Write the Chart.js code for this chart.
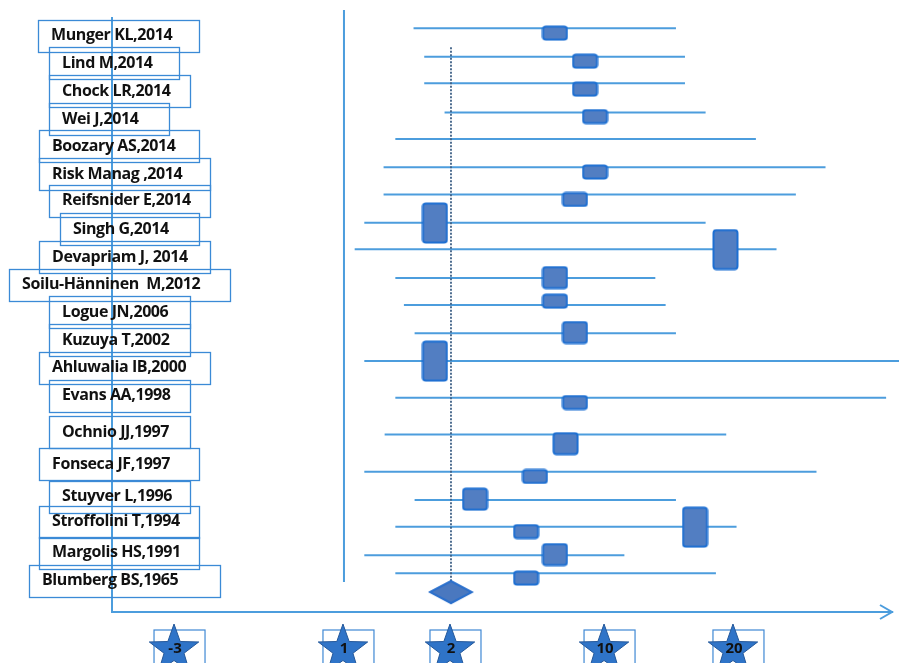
<!DOCTYPE html>
<html>
<head>
<meta charset="utf-8">
<script src="https://cdn.jsdelivr.net/npm/chart.js@4.4.1/dist/chart.umd.min.js"></script>
<style>
  html, body { margin: 0; padding: 0; background: #fff; }
  #wrap { width: 899px; height: 663px; }
</style>
</head>
<body>
<div id="wrap"><canvas id="myChart"></canvas></div>
<script>
// studies, top to bottom
var studies = ['Munger KL,2014', 'Lind M,2014', 'Chock LR,2014', 'Wei J,2014', 'Boozary AS,2014',
  'Risk Manag ,2014', 'Reifsnider E,2014', 'Singh G,2014', 'Devapriam J, 2014', 'Soilu-Hänninen  M,2012',
  'Logue JN,2006', 'Kuzuya T,2002', 'Ahluwalia IB,2000', 'Evans AA,1998', 'Ochnio JJ,1997',
  'Fonseca JF,1997', 'Stuyver L,1996', 'Stroffolini T,1994', 'Margolis HS,1991', 'Blumberg BS,1965'];

// confidence interval of each study (one line each) and the row it sits on
var ciLow  = [1.65, 1.75, 1.75, 1.94, 1.48, 1.37, 1.37, 1.19, 1.10, 1.48, 1.56, 1.66, 1.19, 1.48, 1.38, 1.19, 1.66, 1.48, 1.19, 1.48];
var ciHigh = [15.5, 16.2, 16.2, 17.8, 21.7, 27.1, 24.8, 17.8, 23.3, 13.9, 14.7, 15.5, 32.8, 31.8, 19.4, 26.4, 15.5, 20.2, 11.5, 18.6];
var ciRow  = [1.0, 2.01, 2.96, 4.0, 4.95, 5.96, 6.93, 7.94, 8.89, 9.91, 10.88, 11.89, 12.88, 14.19, 15.5, 16.83, 17.84, 18.8, 19.81, 20.46];

// point estimates (the boxes), their row and weight class 1..3
var boxEst    = [7.40, 8.96, 8.96, 9.48, 9.48, 8.44, 1.85, 19.34, 7.40, 7.40, 8.44, 1.85, 8.44, 7.95, 6.36, 3.25, 5.90, 16.98, 7.40, 5.90];
var boxRow    = [1.17, 2.17, 3.17, 4.15, 6.13, 7.11, 7.95, 8.90, 9.90, 10.74, 11.86, 12.88, 14.36, 15.83, 17.0, 17.81, 18.97, 18.81, 19.79, 20.63];
var boxWeight = [1, 1, 1, 1, 1, 1, 3, 3, 2, 1, 2, 3, 1, 2, 1, 2, 1, 3, 2, 1];

// pooled estimate
var pooled = 2;
var pooledRow = 21.13;
var nullValue = 1;

// x axis tick labels
var xTicks = [-3, 1, 2, 10, 20];

// ---- layout (not data) ----
var xTickFrac = [0.0808, 0.2974, 0.4346, 0.6321, 0.7974]; // where each tick sits along the axis
var nullSpan = [0.34, 20.77];
var pooledSpan = [1.67, 20.74];
var labelRow = [1.27, 2.25, 3.24, 4.24, 5.20, 6.20, 7.15, 8.18, 9.17, 10.15, 11.13, 12.13, 13.11, 14.11, 15.43, 16.56, 17.72, 18.61, 19.72, 20.72];
var labelBoxL = [38, 49, 49, 49, 39, 39, 49, 60, 39, 9, 49, 49, 39, 49, 49, 39, 49, 39, 39, 29];
var labelBoxR = [199, 179, 190, 169, 199, 210, 210, 199, 210, 230, 190, 190, 210, 190, 190, 199, 190, 199, 199, 220];
var boxHeights = { 1: 13, 2: 21, 3: 39 };
var lineBlue = '#4c9ddd';
var labelFont = 'bold 16px "Open Sans"';

function toFrac(v) {
  var n = xTicks.length, i = 0;
  if (v >= xTicks[n - 1]) i = n - 2;
  else while (i < n - 2 && v > xTicks[i + 1]) i++;
  var t = (v - xTicks[i]) / (xTicks[i + 1] - xTicks[i]);
  return xTickFrac[i] + t * (xTickFrac[i + 1] - xTickFrac[i]);
}
function fromFrac(f) {
  var n = xTickFrac.length, i = 0;
  if (f >= xTickFrac[n - 1]) i = n - 2;
  else while (i < n - 2 && f > xTickFrac[i + 1]) i++;
  var t = (f - xTickFrac[i]) / (xTickFrac[i + 1] - xTickFrac[i]);
  return xTicks[i] + t * (xTicks[i + 1] - xTicks[i]);
}

// linear scale whose ticks are unevenly spaced, like the original drawing
class ForestScale extends Chart.LinearScale {
  buildTicks() {
    return xTicks.map(function (v) { return { value: v }; });
  }
  getPixelForValue(v) {
    if (v === null || isNaN(v)) return NaN;
    return this.getPixelForDecimal(toFrac(v));
  }
  getValueForPixel(p) {
    return fromFrac(this.getDecimalForPixel(p));
  }
}
ForestScale.id = 'forest';
ForestScale.defaults = {};
Chart.register(ForestScale);

var imgCache = {};
function boxImage(w) {
  if (imgCache[w]) return imgCache[w];
  var h = boxHeights[w];
  var c = document.createElement('canvas');
  c.width = 27; c.height = h + 3;
  var g = c.getContext('2d');
  g.fillStyle = '#527ec2';
  g.strokeStyle = '#1d6fd2';
  g.lineWidth = 2;
  g.beginPath();
  g.roundRect(1.5, 1.5, 24, h, 3);
  g.fill(); g.stroke();
  imgCache[w] = c;
  return c;
}
function diamondImage() {
  var c = document.createElement('canvas');
  c.width = 46; c.height = 26;
  var g = c.getContext('2d');
  g.fillStyle = '#4a78bf';
  g.strokeStyle = '#2a6fcc';
  g.lineWidth = 2;
  g.beginPath();
  g.moveTo(2, 13); g.lineTo(23, 2); g.lineTo(44, 13); g.lineTo(23, 24);
  g.closePath(); g.fill(); g.stroke();
  return c;
}

function starPath(ctx, cx, cy, R, r) {
  ctx.beginPath();
  for (var k = 0; k < 10; k++) {
    var a = -Math.PI / 2 + k * Math.PI / 5;
    var rad = k % 2 ? r : R;
    ctx.lineTo(cx + rad * Math.cos(a), cy + rad * Math.sin(a));
  }
  ctx.closePath();
}

var forestDecor = {
  id: 'forestDecor',
  beforeDraw: function (chart) {
    var ctx = chart.ctx, xs = chart.scales.x;
    ctx.save();
    xTicks.forEach(function (v) {
      var cx = xs.getPixelForValue(v);
      ctx.strokeStyle = '#3f88d4';
      ctx.lineWidth = 1.2;
      ctx.strokeRect(cx - 21, 630, 51, 40);
      starPath(ctx, cx - 1, 650, 26, 10.5);
      ctx.fillStyle = '#2f74c8';
      ctx.fill();
      ctx.strokeStyle = '#24589a';
      ctx.lineWidth = 1;
      ctx.stroke();
    });
    ctx.restore();
  },
  afterDraw: function (chart) {
    var ctx = chart.ctx, ys = chart.scales.y, area = chart.chartArea;
    ctx.save();
    // arrow head on the x axis
    ctx.strokeStyle = lineBlue;
    ctx.lineWidth = 2;
    ctx.beginPath();
    ctx.moveTo(area.right - 12, area.bottom - 7);
    ctx.lineTo(area.right, area.bottom);
    ctx.lineTo(area.right - 12, area.bottom + 7);
    ctx.stroke();
    // study labels in boxes
    ctx.font = labelFont;
    ctx.letterSpacing = '-0.4px';
    ctx.textBaseline = 'middle';
    ctx.textAlign = 'left';
    studies.forEach(function (s, i) {
      var y = ys.getPixelForValue(labelRow[i]);
      ctx.strokeStyle = '#3b8ad6';
      ctx.lineWidth = 1.3;
      ctx.strokeRect(labelBoxL[i] + 0.5, Math.round(y - 16) + 0.5, labelBoxR[i] - labelBoxL[i], 32);
      ctx.fillStyle = '#111';
      ctx.fillText(s, labelBoxL[i] + 13, y);
    });
    ctx.restore();
  }
};

var datasets = [];
datasets.push({
  label: 'pooled',
  data: [{ x: pooled, y: pooledRow }],
  pointStyle: diamondImage(),
  pointRadius: 5,
  order: 0
});
datasets.push({
  label: 'studies',
  data: boxEst.map(function (v, i) { return { x: v, y: boxRow[i] }; }),
  pointStyle: function (c) { return boxImage(boxWeight[c.dataIndex]); },
  pointRadius: 5,
  order: 1
});
datasets.push({
  label: 'pooled line',
  data: [{ x: pooled, y: pooledSpan[0] }, { x: pooled, y: pooledSpan[1] }],
  showLine: true, borderColor: '#3d5f85', borderWidth: 1.8, borderDash: [2, 1.5],
  pointRadius: 0, clip: false, order: 2
});
datasets.push({
  label: 'no effect',
  data: [{ x: nullValue, y: nullSpan[0] }, { x: nullValue, y: nullSpan[1] }],
  showLine: true, borderColor: lineBlue, borderWidth: 2,
  pointRadius: 0, clip: false, order: 3
});
studies.forEach(function (s, i) {
  datasets.push({
    label: s,
    data: [{ x: ciLow[i], y: ciRow[i] }, { x: ciHigh[i], y: ciRow[i] }],
    showLine: true, borderColor: lineBlue, borderWidth: 2,
    pointRadius: 0, clip: false, order: 4
  });
});

var ctx = document.getElementById('myChart').getContext('2d');
var myChart = new Chart(ctx, {
  type: 'scatter',
  data: { datasets: datasets },
  plugins: [forestDecor],
  options: {
    responsive: true,
    maintainAspectRatio: false,
    animation: false,
    layout: { padding: { top: 18, right: 7, bottom: 0, left: 0 } },
    plugins: { legend: { display: false }, tooltip: { enabled: false } },
    scales: {
      x: {
        type: 'forest',
        min: fromFrac(0),
        max: fromFrac(1),
        grid: { display: false, drawTicks: false },
        border: { display: true, color: lineBlue, width: 2 },
        ticks: {
          autoSkip: false, maxRotation: 0, padding: 28,
          color: '#111', font: { family: 'Open Sans', weight: 'bold', size: 15 },
          callback: function (v) { return String(v); }
        },
        afterFit: function (s) { s.height = 51; }
      },
      y: {
        type: 'linear',
        reverse: true,
        min: 0.63,
        max: 21.84,
        grid: { display: false },
        border: { display: true, color: lineBlue, width: 2 },
        ticks: { display: false },
        afterFit: function (s) { s.width = 112; }
      }
    }
  }
});
</script>
</body>
</html>
